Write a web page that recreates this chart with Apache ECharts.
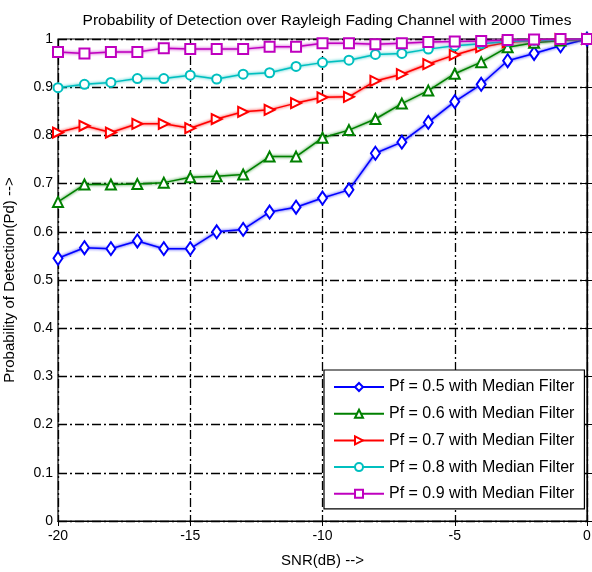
<!DOCTYPE html>
<html><head><meta charset="utf-8">
<script src="https://cdn.jsdelivr.net/npm/echarts@6/dist/echarts.min.js"></script>
<style>html,body{margin:0;padding:0;background:#fff}#c{width:592px;height:572px}</style>
</head><body><div id="c"></div>
<script>
var snr = [-20,-19,-18,-17,-16,-15,-14,-13,-12,-11,-10,-9,-8,-7,-6,-5,-4,-3,-2,-1,0];
var pf05 = [0.545,0.567,0.565,0.581,0.565,0.565,0.600,0.605,0.641,0.651,0.670,0.687,0.763,0.786,0.827,0.870,0.906,0.955,0.970,0.986,1.0];
var pf06 = [0.662,0.698,0.698,0.699,0.702,0.713,0.715,0.719,0.756,0.756,0.795,0.811,0.834,0.866,0.893,0.928,0.952,0.983,0.992,0.997,1.0];
var pf07 = [0.806,0.820,0.806,0.824,0.824,0.815,0.834,0.849,0.853,0.867,0.879,0.880,0.913,0.927,0.948,0.967,0.983,0.993,0.997,1.0,1.0];
var pf08 = [0.899,0.906,0.910,0.918,0.918,0.925,0.917,0.927,0.930,0.943,0.951,0.956,0.968,0.970,0.979,0.986,0.990,0.995,0.997,0.999,1.0];
var pf09 = [0.973,0.970,0.973,0.973,0.981,0.979,0.979,0.979,0.984,0.984,0.991,0.991,0.989,0.991,0.994,0.995,0.996,0.998,0.999,1.0,1.0];
var names = ['Pf = 0.5 with Median Filter','Pf = 0.6 with Median Filter','Pf = 0.7 with Median Filter','Pf = 0.8 with Median Filter','Pf = 0.9 with Median Filter'];
var xTicks = [-20,-15,-10,-5,0];

var font = 'Liberation Sans, Arial, sans-serif';
function pairs(v){ return snr.map(function(x,i){ return [x, v[i]]; }); }
var cfg = [
  {d:pf05, c:'#0000ff', s:'emptyDiamond', r:0, z:[9,13]},
  {d:pf06, c:'#008000', s:'emptyTriangle', r:0, z:10},
  {d:pf07, c:'#ff0000', s:'emptyTriangle', r:-90, z:10},
  {d:pf08, c:'#00bfbf', s:'emptyCircle', r:0, z:9},
  {d:pf09, c:'#bf00bf', s:'emptyRect', r:0, z:10}
];
var series = cfg.map(function(o,i){
  return {
    type:'line', name:names[i], data:pairs(o.d),
    symbol:o.s, symbolSize:o.z, symbolRotate:o.r,
    lineStyle:{color:o.c, width:1.5, shadowColor:o.c, shadowBlur:3},
    itemStyle:{color:o.c, borderColor:o.c, borderWidth:1.5},
    emphasis:{disabled:true}, animation:false
  };
});
var gridLine = {show:true, lineStyle:{color:'#000', width:1.3, type:[9,3,2,3]}};
var chart = echarts.init(document.getElementById('c'), null, {renderer:'canvas'});
chart.setOption({
  backgroundColor:'#fff',
  animation:false,
  title:{text:'Probability of Detection over Rayleigh Fading Channel with 2000 Times', left:322, top:8, textAlign:'center',
    textStyle:{fontFamily:font, fontSize:15.5, fontWeight:'normal', color:'#000'}},
  grid:{left:58, right:5, top:39, bottom:51, containLabel:false, outerBoundsMode:'none',
    show:true, borderColor:'#000', borderWidth:1.2, backgroundColor:'#fff'},
  xAxis:[{type:'value', min:-20, max:0, interval:5,
    name:'SNR(dB) -->', nameLocation:'middle', nameGap:32,
    nameTextStyle:{fontFamily:font, fontSize:15, color:'#000'},
    axisLine:{show:true, lineStyle:{color:'#000', width:1.2}},
    axisTick:{show:true, inside:true, length:5, lineStyle:{color:'#000'}},
    axisLabel:{fontFamily:font, fontSize:14, color:'#000', margin:8, formatter:function(v){return xTicks.indexOf(v)>=0?String(v):'';}},
    splitLine:gridLine},
   {type:'value', min:-20, max:0, interval:5, position:'top',
    axisLine:{show:true, lineStyle:{color:'#000'}}, axisTick:{show:true, inside:true, length:5, lineStyle:{color:'#000'}},
    axisLabel:{show:false}, splitLine:{show:false}}],
  yAxis:[{type:'value', min:0, max:1, interval:0.1,
    name:'Probability of Detection(Pd) -->', nameLocation:'middle', nameGap:41,
    nameTextStyle:{fontFamily:font, fontSize:15, color:'#000'},
    axisLine:{show:true, lineStyle:{color:'#000', width:1.2}},
    axisTick:{show:true, inside:true, length:5, lineStyle:{color:'#000'}},
    axisLabel:{fontFamily:font, fontSize:14, color:'#000', margin:5, formatter:function(v){return String(Math.round(v*10)/10);}},
    splitLine:gridLine},
   {type:'value', min:0, max:1, interval:0.1, position:'right',
    axisLine:{show:true, lineStyle:{color:'#000'}}, axisTick:{show:true, inside:true, length:5, lineStyle:{color:'#000'}},
    axisLabel:{show:false}, splitLine:{show:false}}],
  legend:{orient:'vertical', left:324, top:370,
    backgroundColor:'#fff', borderColor:'#000', borderWidth:1.2,
    padding:[9,10,7,9], itemGap:10.7, itemWidth:50, itemHeight:10,
    textStyle:{fontFamily:font, fontSize:16, lineHeight:16, color:'#000'},
    data:names},
  series:series
});
</script></body></html>
